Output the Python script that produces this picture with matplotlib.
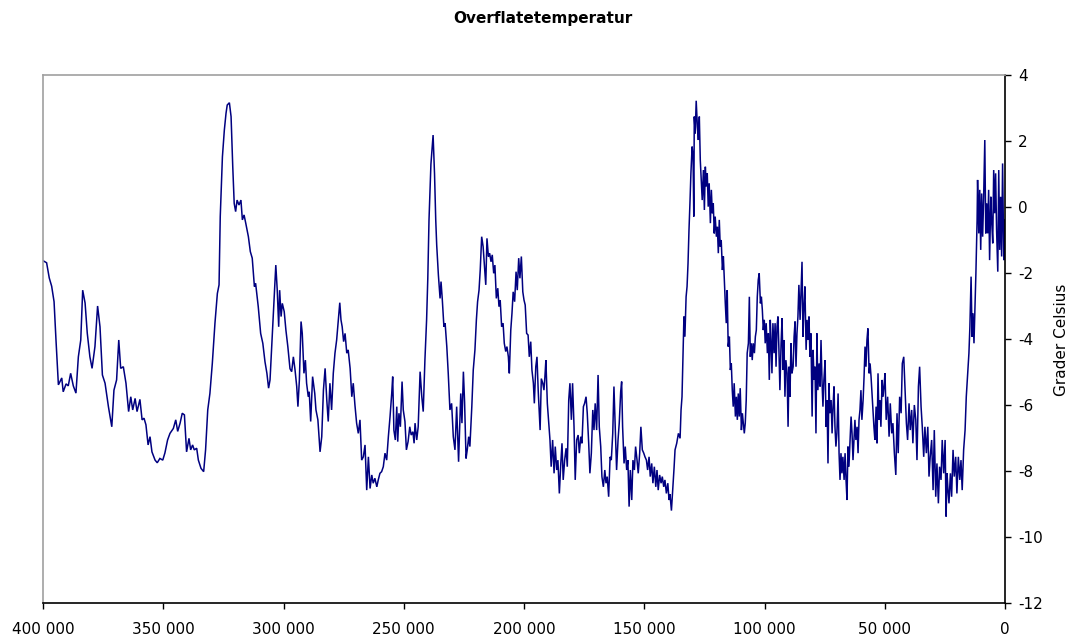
import matplotlib
matplotlib.use("Agg")
import matplotlib.pyplot as plt
from matplotlib.ticker import FuncFormatter
import numpy as np

# Vostok: alder (tusen år før nåtid) og temperaturavvik (grader Celsius)
alder_ka = [
    399.9, 398.5, 397.4, 396.4, 395.4, 394.6, 393.6, 392.2, 391.6, 390.4,
    389.5, 388.5, 387.4, 386.3, 385.3, 384.3, 383.5, 382.5, 381.6, 380.5,
    379.6, 378.4, 377.3, 376.3, 375.3, 374.2, 372.8, 371.4, 370.5, 369.4,
    368.5, 367.7, 366.6, 365.5, 364.4, 363.5, 362.7, 361.7, 360.9, 359.7,
    358.8, 358.0, 357.2, 356.3, 355.5, 354.7, 353.4, 352.5, 351.4, 350.2,
    349.3, 348.2, 347.2, 345.8, 344.8, 344.0, 343.0, 342.1, 341.2, 340.3,
    339.3, 338.6, 337.8, 337.1, 336.1, 335.4, 334.3, 333.2, 332.4, 331.5,
    330.6, 329.6, 328.5, 327.5, 326.8, 326.3, 325.4, 324.6, 323.9, 323.4,
    322.5, 321.8, 321.1, 320.5, 319.9, 319.3, 318.5, 317.7, 317.1, 316.4,
    315.7, 314.6, 313.8, 313.0, 312.1, 311.6, 310.5, 309.5, 308.6, 307.7,
    306.9, 306.2, 305.6, 304.9, 304.1, 303.2, 302.6, 302.0, 301.6, 301.0,
    300.5, 299.7, 299.0, 298.2, 297.3, 296.6, 295.9, 295.2, 294.5, 294.0,
    293.4, 292.7, 292.2, 291.5, 290.9, 290.4, 289.7, 289.3, 288.7, 287.9,
    287.0, 286.5, 285.7, 284.8, 284.1, 283.4, 282.7, 282.0, 281.4, 280.7,
    280.0, 279.3, 278.6, 277.9, 277.2, 276.6, 276.1, 275.6, 275.0, 274.4,
    273.7, 273.1, 272.3, 271.6, 271.0, 270.3, 269.6, 268.9, 268.2, 267.5,
    266.8, 266.1, 265.4, 264.7, 264.0, 263.3, 262.7, 262.0, 261.2, 260.6,
    259.9, 259.2, 258.5, 257.8, 257.1, 256.4, 255.7, 255.0, 254.6, 254.1,
    253.5, 252.9, 252.5, 252.0, 251.4, 250.7, 250.2, 249.5, 248.9, 248.2,
    247.5, 246.9, 246.2, 245.7, 245.3, 244.6, 244.0, 243.2, 242.5, 241.9,
    241.2, 240.5, 240.0, 239.5, 238.7, 237.8, 237.2, 236.7, 236.3, 235.6,
    234.9, 234.5, 234.0, 233.3, 232.8, 232.1, 231.5, 230.8, 230.1, 229.4,
    228.7, 228.0, 227.2, 226.3, 225.8, 225.2, 224.7, 224.1, 223.6, 223.0,
    222.5, 221.7, 221.1, 220.4, 219.8, 219.3, 218.7, 218.2, 217.6, 217.0,
    216.5, 215.9, 215.4, 214.8, 214.3, 213.7, 213.2, 212.6, 212.1, 211.5,
    210.9, 210.4, 209.9, 209.3, 208.7, 208.2, 207.6, 207.1, 206.5, 206.1,
    205.5, 205.0, 204.5, 203.9, 203.3, 202.8, 202.2, 201.7, 201.1, 200.5,
    200.0, 199.5, 198.9, 198.3, 197.8, 197.2, 196.7, 196.1, 195.7, 195.1,
    194.6, 194.1, 193.3, 192.8, 192.2, 191.7, 191.3, 190.9, 190.3, 189.7,
    189.2, 188.7, 188.1, 187.5, 187.0, 186.4, 185.9, 185.3, 184.7, 184.2,
    183.7, 183.1, 182.5, 182.0, 181.4, 180.9, 180.3, 179.8, 179.2, 178.7,
    178.1, 177.5, 177.0, 176.4, 175.9, 175.3, 174.8, 174.2, 173.7, 173.1,
    172.6, 172.0, 171.4, 170.9, 170.4, 169.8, 169.2, 168.7, 168.1, 167.6,
    167.0, 166.4, 165.9, 165.4, 164.8, 164.2, 163.7, 163.1, 162.6, 162.0,
    161.5, 160.9, 160.4, 159.8, 159.4, 159.0, 158.4, 157.9, 157.3, 156.8,
    156.3, 155.8, 155.2, 154.7, 154.1, 153.6, 153.0, 152.5, 151.9, 151.4,
    150.8, 150.2, 149.7, 149.1, 148.6, 148.0, 147.5, 146.9, 146.4, 145.8,
    145.2, 144.7, 144.2, 143.6, 143.0, 142.5, 141.9, 141.4, 140.8, 140.2,
    139.7, 139.3, 138.7, 138.0, 137.6, 137.2, 136.5, 135.8, 135.1, 134.7,
    134.3, 133.9, 133.5, 133.1, 132.6, 132.2, 131.8, 131.4, 131.0, 130.6,
    130.1, 129.7, 129.4, 129.2, 128.8, 128.4, 127.9, 127.5, 127.1, 126.7,
    126.3, 125.9, 125.4, 125.0, 124.6, 124.2, 123.8, 123.4, 123.0, 122.5,
    122.1, 121.7, 121.3, 120.9, 120.5, 120.0, 119.6, 119.2, 118.8, 118.4,
    118.0, 117.5, 117.1, 116.7, 116.3, 115.9, 115.5, 115.1, 114.6, 114.2,
    113.8, 113.4, 113.0, 112.6, 112.1, 111.7, 111.3, 110.9, 110.5, 110.1,
    109.6, 109.2, 108.8, 108.4, 108.0, 107.6, 107.2, 106.7, 106.3, 105.9,
    105.5, 105.1, 104.7, 104.2, 103.8, 103.4, 103.0, 102.6, 102.2, 101.7,
    101.3, 100.9, 100.5, 100.1, 99.7, 99.3, 98.8, 98.4, 98.0, 97.6,
    97.3, 96.9, 96.5, 96.0, 95.6, 95.2, 94.8, 94.4, 94.0, 93.6,
    93.1, 92.7, 92.3, 91.9, 91.5, 91.1, 90.6, 90.2, 89.8, 89.4,
    89.0, 88.6, 88.1, 87.7, 87.3, 86.9, 86.5, 86.1, 85.7, 85.2,
    84.8, 84.4, 84.0, 83.6, 83.2, 82.7, 82.3, 81.9, 81.5, 81.1,
    80.7, 80.2, 79.8, 79.4, 79.0, 78.6, 78.2, 77.8, 77.3, 76.9,
    76.5, 76.1, 75.7, 75.3, 74.8, 74.4, 74.0, 73.6, 73.2, 72.8,
    72.3, 71.9, 71.5, 71.1, 70.7, 70.3, 69.9, 69.4, 69.0, 68.6,
    68.2, 67.8, 67.4, 66.9, 66.5, 66.1, 65.7, 65.3, 64.9, 64.4,
    64.0, 63.6, 63.2, 62.8, 62.4, 62.0, 61.5, 61.1, 60.7, 60.3,
    59.9, 59.5, 59.0, 58.6, 58.2, 57.8, 57.4, 57.0, 56.5, 56.1,
    55.7, 55.3, 54.9, 54.5, 54.1, 53.6, 53.2, 52.8, 52.4, 52.0,
    51.6, 51.1, 50.7, 50.3, 49.9, 49.4, 48.8, 48.2, 47.7, 47.1,
    46.6, 46.0, 45.4, 44.9, 44.4, 43.8, 43.2, 42.7, 42.1, 41.6,
    41.0, 40.5, 39.9, 39.4, 38.8, 38.3, 37.7, 37.1, 36.6, 36.0,
    35.5, 34.9, 34.4, 33.8, 33.3, 32.7, 32.1, 31.6, 31.1, 30.5,
    29.9, 29.4, 28.8, 28.3, 27.7, 27.2, 26.6, 26.1, 25.5, 24.9,
    24.5, 24.1, 23.7, 23.3, 22.7, 22.2, 21.6, 21.1, 20.5, 20.0,
    19.4, 18.8, 18.3, 17.8, 17.2, 16.6, 16.1, 15.5, 15.0, 14.6,
    14.1, 13.7, 13.3, 12.9, 12.5, 12.1, 11.6, 11.4, 10.9, 10.5,
    10.1, 9.7, 9.3, 8.9, 8.4, 8.0, 7.6, 7.2, 6.8, 6.4,
    5.9, 5.5, 5.1, 4.7, 4.3, 3.9, 3.5, 3.0, 2.6, 2.2,
    1.8, 1.4, 1.0, 0.5, 0.1,
]

temperatur = [
    -1.63, -1.69, -2.15, -2.40, -2.87, -4.03, -5.39, -5.18, -5.60, -5.36,
    -5.42, -5.04, -5.42, -5.64, -4.54, -4.03, -2.52, -2.91, -3.82, -4.54,
    -4.89, -4.23, -3.00, -3.63, -5.09, -5.34, -6.05, -6.66, -5.55, -5.24,
    -4.03, -4.89, -4.84, -5.34, -6.20, -5.75, -6.15, -5.80, -6.20, -5.83,
    -6.45, -6.40, -6.60, -7.21, -6.96, -7.42, -7.67, -7.75, -7.62, -7.67,
    -7.45, -7.06, -6.86, -6.71, -6.45, -6.80, -6.55, -6.25, -6.30, -7.42,
    -7.01, -7.36, -7.21, -7.36, -7.31, -7.67, -7.92, -8.02, -7.36, -6.15,
    -5.65, -4.74, -3.52, -2.62, -2.36, -0.29, 1.52, 2.33, 2.84, 3.09,
    3.16, 2.74, 1.22, 0.11, -0.14, 0.21, 0.06, 0.21, -0.39, -0.24,
    -0.49, -0.90, -1.35, -1.55, -2.41, -2.31, -3.02, -3.83, -4.13, -4.69,
    -5.04, -5.49, -5.24, -4.23, -3.02, -1.76, -2.52, -3.63, -2.52, -3.32,
    -2.92, -3.17, -3.73, -4.23, -4.90, -4.99, -4.54, -4.94, -5.44, -6.05,
    -5.24, -3.47, -3.83, -5.04, -4.64, -5.34, -5.75, -5.60, -6.50, -5.14,
    -5.65, -6.15, -6.45, -7.42, -6.96, -5.55, -4.89, -5.85, -6.50, -5.34,
    -6.15, -5.04, -4.43, -4.03, -3.42, -2.90, -3.42, -3.63, -4.08, -3.83,
    -4.43, -4.33, -4.89, -5.75, -5.34, -6.00, -6.55, -6.86, -6.45, -7.67,
    -7.57, -7.21, -8.58, -7.57, -8.53, -8.12, -8.37, -8.22, -8.48, -8.27,
    -8.07, -8.02, -7.87, -7.46, -7.67, -6.96, -6.35, -5.65, -5.14, -6.76,
    -7.06, -6.05, -7.11, -6.25, -6.66, -5.29, -6.15, -6.50, -7.36, -7.11,
    -6.66, -6.91, -6.81, -7.16, -6.55, -7.06, -6.66, -4.99, -5.75, -6.20,
    -4.64, -3.42, -2.16, -0.39, 1.30, 2.18, 1.00, -0.39, -1.15, -2.06,
    -2.77, -2.26, -2.77, -3.63, -3.52, -4.23, -5.04, -6.15, -5.95, -6.96,
    -7.36, -6.05, -7.72, -5.65, -6.55, -4.99, -5.92, -7.62, -7.36, -6.96,
    -7.26, -6.05, -4.94, -4.33, -3.42, -2.87, -2.52, -1.91, -0.90, -1.20,
    -1.71, -2.36, -0.95, -1.50, -1.40, -1.66, -1.45, -2.01, -1.76, -2.77,
    -2.46, -3.02, -2.82, -3.63, -3.52, -4.13, -4.38, -4.23, -4.54, -5.04,
    -3.73, -3.22, -2.57, -2.87, -1.96, -2.52, -1.55, -2.16, -1.50, -2.57,
    -2.82, -2.97, -3.83, -3.88, -4.54, -4.08, -4.94, -5.34, -5.95, -4.84,
    -4.54, -5.55, -6.76, -5.20, -5.34, -5.55, -5.14, -4.64, -5.95, -6.55,
    -7.06, -7.87, -7.06, -8.07, -7.26, -7.97, -7.67, -8.68, -7.77, -7.16,
    -8.27, -7.67, -7.31, -7.87, -5.85, -5.34, -6.45, -5.34, -6.66, -8.27,
    -7.06, -6.91, -7.46, -6.96, -7.16, -6.05, -5.95, -5.75, -6.25, -7.16,
    -8.07, -7.46, -6.15, -6.76, -5.95, -6.76, -5.09, -6.66, -7.26, -8.17,
    -8.48, -7.97, -8.37, -8.17, -8.78, -7.57, -7.67, -6.86, -5.44, -6.86,
    -7.97, -7.06, -6.55, -5.60, -5.29, -6.66, -7.77, -7.26, -7.97, -7.67,
    -9.08, -7.97, -8.88, -7.67, -7.97, -7.26, -7.67, -8.07, -7.46, -6.66,
    -7.36, -7.46, -7.57, -7.67, -7.97, -7.57, -8.17, -7.77, -8.37, -7.87,
    -8.48, -7.97, -8.58, -8.12, -8.37, -8.17, -8.48, -8.27, -8.68, -8.37,
    -8.88, -8.70, -9.20, -8.40, -7.90, -7.36, -7.16, -6.86, -7.01, -6.15,
    -5.75, -4.54, -3.32, -3.93, -2.72, -2.41, -1.71, -0.70, 0.11, 1.02,
    1.83, 1.52, -0.29, 2.74, 2.23, 3.22, 2.43, 2.03, 2.74, 1.42,
    0.82, 0.21, 1.12, -0.09, 1.22, 0.62, 1.02, 0.01, 0.72, -0.49,
    0.52, -0.19, 0.11, -0.80, -0.29, -0.90, -0.60, -1.40, -0.39, -1.20,
    -1.00, -1.91, -1.50, -2.21, -2.92, -3.52, -2.52, -4.23, -3.93, -4.94,
    -4.74, -5.55, -6.05, -5.34, -6.35, -5.75, -6.45, -5.65, -6.35, -5.49,
    -6.76, -6.25, -6.55, -6.86, -6.55, -5.85, -4.43, -4.13, -2.72, -4.54,
    -4.13, -4.64, -4.13, -4.43, -3.93, -3.73, -2.72, -2.21, -2.01, -2.92,
    -2.72, -3.12, -3.73, -3.42, -4.13, -3.52, -4.43, -3.83, -5.24, -3.42,
    -4.03, -5.04, -3.52, -4.43, -3.52, -4.84, -3.63, -3.32, -4.33, -5.55,
    -4.13, -3.37, -4.94, -4.03, -5.75, -4.64, -5.04, -6.66, -4.84, -5.75,
    -4.13, -5.04, -4.84, -3.93, -3.47, -4.84, -3.83, -3.32, -2.36, -3.42,
    -2.52, -1.66, -3.93, -3.02, -2.41, -4.33, -3.42, -4.03, -3.32, -4.54,
    -3.83, -6.35, -4.33, -5.24, -4.84, -6.86, -3.83, -5.55, -4.74, -5.44,
    -4.03, -5.24, -6.05, -5.24, -4.64, -6.66, -5.85, -7.77, -5.34, -6.25,
    -5.85, -6.86, -6.05, -5.44, -6.66, -7.26, -6.86, -5.65, -7.46, -8.27,
    -7.46, -8.07, -7.57, -8.27, -7.46, -8.27, -8.88, -7.26, -7.87, -7.06,
    -6.35, -6.86, -7.67, -7.06, -6.45, -7.06, -6.66, -7.46, -6.45, -6.15,
    -5.55, -6.45, -5.85, -5.14, -4.23, -4.84, -4.03, -3.68, -5.04, -4.74,
    -5.14, -5.65, -6.15, -6.66, -7.06, -6.05, -7.16, -5.04, -6.45, -5.85,
    -6.66, -5.24, -5.75, -5.44, -5.04, -6.45, -5.75, -6.96, -5.95, -6.86,
    -6.55, -7.46, -8.12, -6.25, -7.46, -5.75, -6.25, -4.74, -4.54, -5.44,
    -6.55, -7.06, -5.95, -6.76, -6.15, -7.16, -6.00, -6.45, -7.67, -5.44,
    -4.84, -6.05, -6.66, -7.57, -6.66, -7.46, -6.66, -8.17, -7.57, -7.06,
    -8.58, -6.76, -8.78, -7.77, -8.98, -7.87, -8.27, -7.06, -8.07, -7.06,
    -9.38, -8.07, -8.58, -8.98, -8.07, -8.78, -7.36, -8.17, -7.57, -8.68,
    -7.57, -8.27, -7.67, -8.58, -7.36, -6.76, -5.75, -5.04, -4.43, -3.63,
    -2.11, -3.93, -3.22, -4.13, -3.02, -2.01, -0.39, 0.82, -0.80, 0.52,
    -1.30, 0.41, -0.90, 0.21, 2.03, -0.80, 0.11, -0.80, 0.52, -1.61,
    0.31, -0.49, -1.10, 1.12, -0.19, 1.02, -0.70, -1.96, 1.12, -1.30,
    0.31, -1.50, 1.32, -1.61, -0.39,
]

x_ticks = [400000, 350000, 300000, 250000, 200000, 150000, 100000, 50000, 0]
y_ticks = [-12, -10, -8, -6, -4, -2, 0, 2, 4]

plt.rcParams["axes.unicode_minus"] = False
plt.rcParams["font.family"] = "DejaVu Sans"

fig = plt.figure(figsize=(10.72, 6.42), dpi=100)
ax = fig.add_axes([43 / 1072, 1 - 603 / 642, 962 / 1072, 528 / 642])

ax.plot(np.array(alder_ka) * 1000, temperatur, color="#000080", lw=1.1,
        solid_joinstyle="miter")

ax.set_xlim(400000, 0)
ax.set_ylim(-12, 4)
ax.set_xticks(x_ticks)
ax.set_yticks(y_ticks)
ax.xaxis.set_major_formatter(
    FuncFormatter(lambda v, pos: f"{int(round(v)):,}".replace(",", " ")))
ax.yaxis.tick_right()
ax.tick_params(axis="both", direction="out", length=4.5, width=1,
               labelsize=11, colors="black")
ax.tick_params(axis="x", pad=9)
ax.tick_params(axis="y", pad=5)

for side in ("left", "top"):
    ax.spines[side].set_color("#a0a0a0")
for side in ("right", "bottom"):
    ax.spines[side].set_color("black")
for sp in ax.spines.values():
    sp.set_linewidth(1.2)

# aksetittel til høyre for tallene, midt på plottområdet
fig.text(1062 / 1072, 1 - 340 / 642, "Grader Celsius", rotation=90,
         ha="center", va="center", fontsize=11)
fig.text(543 / 1072, 1 - 18 / 642, "Overflatetemperatur", ha="center",
         va="center", fontsize=11, fontweight="bold")

fig.savefig("out.png", dpi=100)
